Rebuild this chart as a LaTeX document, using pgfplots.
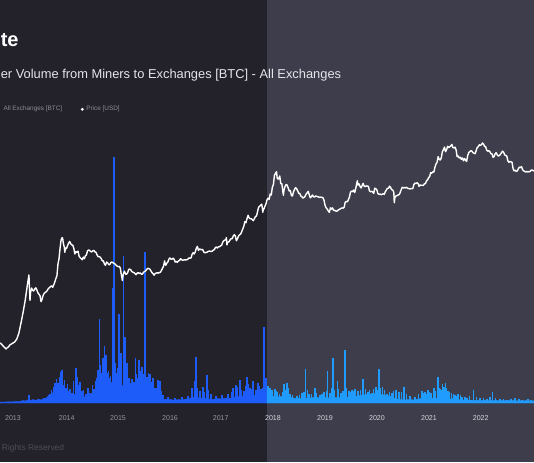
\documentclass[border=0pt]{standalone}
\usepackage{fontspec}
\setmainfont{Liberation Sans}
\usepackage{pgfplots}
\pgfplotsset{compat=1.18}

\definecolor{bgleft}{RGB}{35,33,42}
\definecolor{bgright}{RGB}{62,61,75}
\definecolor{volleft}{RGB}{30,92,250}
\definecolor{volright}{RGB}{32,156,255}
\definecolor{subtxt}{RGB}{228,228,234}
\definecolor{legtxt}{RGB}{140,140,150}
\definecolor{tickdim}{RGB}{150,150,158}
\definecolor{tickbright}{RGB}{215,215,222}
\definecolor{foot}{RGB}{78,77,88}

\begin{document}
\begin{tikzpicture}
\useasboundingbox (0,0) rectangle (400.5pt,346.5pt);
% two shaded panels
\fill[bgleft]  (0,0) rectangle (200.25pt,346.5pt);
\fill[bgright] (200.25pt,0) rectangle (400.5pt,346.5pt);

% ---------- transfer volume (BTC) ----------
\begin{axis}[
  at={(0pt,44.25pt)}, anchor=south west, scale only axis,
  width=400.5pt, height=302.25pt,
  xmin=2012.722, xmax=2022.836, ymin=0, ymax=40300,
  axis line style={draw=none}, ytick=\empty,
  xtick={2012.968,2013.985,2014.957,2015.942,2016.902,2017.892,2018.877,2019.862,2020.847,2021.826},
  xticklabels={\textcolor{tickdim}{2013},\textcolor{tickdim}{2014},\textcolor{tickdim}{2015},\textcolor{tickdim}{2016},\textcolor{tickdim}{2017},
               \textcolor{tickbright}{2018},\textcolor{tickbright}{2019},\textcolor{tickbright}{2020},\textcolor{tickbright}{2021},\textcolor{tickbright}{2022}},
  xtick style={draw=none},
  xticklabel style={font=\fontsize{5.3}{6}\selectfont, anchor=center, yshift=-11.5pt},
  clip=false,
]
% baseline flow, dark panel
\addplot[fill=volleft, draw=volleft, line width=0.3pt] coordinates {
(2012.722,100) (2012.80,100) (2012.90,120) (2013.00,130) (2013.10,150) (2013.15,250)
(2013.20,200) (2013.25,300) (2013.30,250) (2013.35,350) (2013.40,250) (2013.45,400)
(2013.50,300) (2013.55,450) (2013.60,500) (2013.65,800) (2013.70,900) (2013.75,1200)
(2013.80,1100) (2013.85,1400) (2013.90,1200) (2013.95,1000) (2014.00,800) (2014.05,650)
(2014.10,700) (2014.15,900) (2014.20,750) (2014.25,600) (2014.30,650) (2014.35,550)
(2014.40,700) (2014.45,900) (2014.50,1200) (2014.55,1400) (2014.60,1700) (2014.65,1500)
(2014.70,1800) (2014.75,1400) (2014.80,1900) (2014.85,2100) (2014.90,1800) (2014.95,1600)
(2015.00,1900) (2015.05,1700) (2015.10,1500) (2015.15,1200) (2015.20,1100) (2015.25,1300)
(2015.30,1200) (2015.35,1000) (2015.40,1100) (2015.45,1200) (2015.50,900) (2015.55,800)
(2015.60,700) (2015.65,600) (2015.70,500) (2015.75,450) (2015.80,400) (2015.85,350)
(2015.90,400) (2015.95,350) (2016.00,300) (2016.05,300) (2016.10,350) (2016.15,300)
(2016.20,350) (2016.25,400) (2016.30,450) (2016.35,500) (2016.40,600) (2016.45,550)
(2016.50,500) (2016.55,450) (2016.60,500) (2016.65,400) (2016.70,400) (2016.75,350)
(2016.80,400) (2016.85,450) (2016.90,400) (2016.95,450) (2017.00,500) (2017.05,450)
(2017.10,500) (2017.15,550) (2017.20,600) (2017.25,650) (2017.30,700) (2017.35,650)
(2017.40,700) (2017.45,750) (2017.50,700) (2017.55,800) (2017.60,750) (2017.65,850)
(2017.70,800) (2017.75,900) (2017.779,850)
} \closedcycle;
% spikes, dark panel
\addplot[ycomb, volleft, line width=0.95pt] coordinates {
(2013.271,800) (2013.555,500) (2013.669,900) (2013.764,2000) (2013.820,2000) (2013.877,3100)
(2013.896,3300) (2013.934,1800) (2013.972,1500) (2014.029,1200) (2014.086,1000) (2014.161,3500)
(2014.199,1800) (2014.237,2100) (2014.275,1200) (2014.351,900) (2014.427,1000) (2014.502,1400)
(2014.559,2500) (2014.603,8400) (2014.635,3000) (2014.673,4500) (2014.701,5700) (2014.730,4800)
(2014.767,3000) (2014.805,2500) (2014.853,11500) (2014.881,24600) (2014.909,4000) (2014.938,3000)
(2014.976,8900) (2015.014,5000) (2015.057,14700) (2015.089,6600) (2015.127,4000) (2015.165,2500)
(2015.203,2000) (2015.241,1800) (2015.288,4500) (2015.317,2200) (2015.355,4300) (2015.411,3600)
(2015.440,2000) (2015.468,15100) (2015.506,2600) (2015.534,3000) (2015.563,2900) (2015.620,2500)
(2015.677,1500) (2015.714,2300) (2015.752,2200) (2015.809,800) (2015.904,600) (2016.036,500)
(2016.169,600) (2016.283,700) (2016.358,1500) (2016.434,4600) (2016.510,1200) (2016.567,1600)
(2016.642,2800) (2016.718,900) (2016.813,700) (2016.927,800) (2017.040,900) (2017.135,1500)
(2017.192,1800) (2017.267,2300) (2017.343,1200) (2017.400,2600) (2017.457,1500) (2017.514,2200)
(2017.571,1300) (2017.609,2000) (2017.665,1400) (2017.722,7600) (2017.760,2500)
(2013.70,1300) (2013.74,1600) (2013.79,2400) (2013.85,2600) (2013.91,2200) (2013.95,2300)
(2014.00,1900) (2014.05,1400) (2014.12,2200) (2014.18,2600) (2014.22,1600) (2014.30,1300)
(2014.39,1500) (2014.47,1800) (2014.53,2200) (2014.58,3300) (2014.62,3800) (2014.65,2600)
(2014.68,3500) (2014.72,3900) (2014.75,2800) (2014.78,3200) (2014.82,2700) (2014.86,3400)
(2014.895,3800) (2014.92,2600) (2014.955,3500) (2014.99,3000) (2015.03,3800) (2015.07,4200)
(2015.11,2800) (2015.145,2300) (2015.185,1900) (2015.22,2400) (2015.26,2100) (2015.30,2900)
(2015.335,2500) (2015.37,2800) (2015.39,3200) (2015.43,2300) (2015.45,2900) (2015.49,2100)
(2015.52,2400) (2015.55,2000) (2015.59,2100) (2015.65,1500) (2015.69,1400) (2015.73,1700)
(2015.77,1200) (2016.40,2200) (2016.46,1500) (2016.60,1100) (2016.66,1300) (2017.10,1100)
(2017.22,1600) (2017.30,1300) (2017.37,1700) (2017.43,1900) (2017.49,1400) (2017.53,1600)
(2017.59,1100) (2017.63,1700) (2017.69,1500) (2017.74,1900)
};
% baseline flow, light panel
\addplot[fill=volright, draw=volright, line width=0.3pt] coordinates {
(2017.779,850) (2017.85,750) (2017.90,650) (2017.95,700) (2018.00,600) (2018.05,650)
(2018.10,550) (2018.15,600) (2018.20,500) (2018.25,550) (2018.30,450) (2018.35,500)
(2018.40,450) (2018.45,500) (2018.50,450) (2018.55,500) (2018.60,500) (2018.65,550)
(2018.70,500) (2018.75,550) (2018.80,550) (2018.85,500) (2018.90,550) (2018.95,500)
(2019.00,550) (2019.05,500) (2019.10,550) (2019.15,550) (2019.20,600) (2019.25,550)
(2019.30,600) (2019.35,550) (2019.40,600) (2019.45,650) (2019.50,700) (2019.55,750)
(2019.60,800) (2019.65,850) (2019.70,900) (2019.75,900) (2019.80,950) (2019.85,900)
(2019.90,900) (2019.95,850) (2020.00,800) (2020.05,750) (2020.10,700) (2020.15,600)
(2020.20,450) (2020.25,400) (2020.30,350) (2020.35,350) (2020.40,300) (2020.45,350)
(2020.50,350) (2020.55,300) (2020.60,350) (2020.65,400) (2020.70,450) (2020.75,500)
(2020.80,450) (2020.85,500) (2020.90,450) (2020.95,500) (2021.00,450) (2021.05,500)
(2021.10,450) (2021.15,500) (2021.20,450) (2021.25,400) (2021.30,450) (2021.35,400)
(2021.40,350) (2021.45,350) (2021.50,300) (2021.55,300) (2021.60,280) (2021.65,280)
(2021.70,260) (2021.75,280) (2021.80,260) (2021.85,250) (2021.90,260) (2021.95,250)
(2022.00,250) (2022.10,240) (2022.20,250) (2022.30,230) (2022.40,240) (2022.50,220)
(2022.60,230) (2022.70,220) (2022.836,220)
} \closedcycle;
% spikes, light panel
\addplot[ycomb, volright, line width=0.95pt] coordinates {
(2017.798,1700) (2017.836,1500) (2017.874,1300) (2017.930,1400) (2017.968,1100) (2018.101,1900)
(2018.158,2000) (2018.215,900) (2018.347,700) (2018.442,1000) (2018.512,3400) (2018.574,900)
(2018.688,1500) (2018.783,800) (2018.859,1100) (2018.929,3200) (2018.972,1000) (2019.029,4500)
(2019.118,2200) (2019.180,1000) (2019.256,5300) (2019.332,1200) (2019.389,1300) (2019.446,1400)
(2019.503,1200) (2019.597,2400) (2019.692,1100) (2019.768,1000) (2019.844,1600) (2019.900,3400)
(2019.970,1600) (2020.052,900) (2020.147,1000) (2020.222,1300) (2020.279,1100) (2020.374,1600)
(2020.487,700) (2020.582,600) (2020.715,1200) (2020.771,1100) (2020.828,1300) (2020.885,1000)
(2020.942,1500) (2021.018,2600) (2021.055,1400) (2021.106,1900) (2021.163,2000) (2021.207,1200)
(2021.277,1000) (2021.340,800) (2021.396,900) (2021.472,600) (2021.567,500) (2021.694,1300)
(2021.813,500) (2021.945,400) (2022.046,1100) (2022.192,400) (2022.324,350) (2022.476,500)
(2022.608,350) (2022.722,400)
(2017.81,1200) (2017.89,1000) (2017.95,1200) (2018.02,900) (2018.07,1100) (2018.13,1300)
(2018.19,1500) (2018.26,800) (2018.40,800) (2018.48,1100) (2018.54,1300) (2018.62,900)
(2018.72,1000) (2018.82,900) (2018.90,1200) (2019.00,1500) (2019.06,1300) (2019.14,1400)
(2019.22,1200) (2019.29,1500) (2019.36,1100) (2019.42,1200) (2019.55,1300) (2019.64,1400)
(2019.72,1300) (2019.80,1400) (2019.87,1300) (2019.93,1500) (2020.00,1300) (2020.10,1100)
(2020.18,1200) (2020.32,1100) (2020.42,900) (2020.65,900) (2020.74,1000) (2020.80,900)
(2020.86,1100) (2020.97,1200) (2021.04,1500) (2021.08,1300) (2021.13,1600) (2021.18,1500)
(2021.24,1100) (2021.31,900) (2021.36,700) (2021.44,800) (2021.53,600) (2021.62,700)
(2021.75,600) (2021.88,500) (2022.00,600) (2022.10,500) (2022.26,450) (2022.40,400)
(2022.55,400) (2022.68,350) (2022.78,300)
};
\end{axis}

% ---------- price (USD, log scale) ----------
\begin{axis}[
  at={(0pt,44.25pt)}, anchor=south west, scale only axis,
  width=400.5pt, height=302.25pt,
  xmin=2012.722, xmax=2022.836, ymode=log, ymin=0.8326, ymax=3.344e7,
  hide axis,
]
\addplot[white, line width=1.05pt, line join=round] coordinates {
(2012.722,11.3) (2012.75,10.8) (2012.78,9.9) (2012.81,9.3) (2012.835,8.7) (2012.86,9.2)
(2012.88,9.5) (2012.91,10.4) (2012.95,11.0) (2013.00,11.8) (2013.04,13.4) (2013.08,17.4)
(2013.12,27) (2013.16,43) (2013.20,73) (2013.24,140) (2013.27,217) (2013.28,120) (2013.29,72)
(2013.30,100) (2013.32,123) (2013.34,112) (2013.36,108) (2013.38,118) (2013.40,124)
(2013.42,113) (2013.44,100) (2013.46,94) (2013.48,88) (2013.50,68) (2013.52,76)
(2013.54,90) (2013.56,98) (2013.58,102) (2013.60,105) (2013.62,112) (2013.64,121)
(2013.66,125) (2013.68,132) (2013.70,135) (2013.72,127) (2013.74,141) (2013.76,160)
(2013.78,185) (2013.80,210) (2013.82,350) (2013.84,440) (2013.86,700) (2013.88,1000)
(2013.90,1100) (2013.91,1050) (2013.92,880) (2013.94,720) (2013.95,580) (2013.96,700)
(2013.98,680) (2014.00,770) (2014.02,860) (2014.04,930) (2014.06,850) (2014.08,800)
(2014.10,790) (2014.12,690) (2014.14,540) (2014.16,600) (2014.18,580) (2014.20,610)
(2014.22,490) (2014.24,460) (2014.26,440) (2014.28,420) (2014.30,470) (2014.32,440)
(2014.34,500) (2014.36,520) (2014.38,620) (2014.40,640) (2014.42,630) (2014.44,600)
(2014.46,590) (2014.48,620) (2014.50,630) (2014.52,590) (2014.54,580) (2014.56,520)
(2014.58,480) (2014.60,480) (2014.62,470) (2014.64,440) (2014.66,400) (2014.68,400)
(2014.70,350) (2014.72,330) (2014.74,380) (2014.76,370) (2014.78,340) (2014.80,340)
(2014.82,370) (2014.84,380) (2014.86,370) (2014.88,360) (2014.90,350) (2014.92,330)
(2014.94,320) (2014.96,310) (2014.98,315) (2015.00,295) (2015.02,220) (2015.04,170)
(2015.05,210) (2015.06,230) (2015.08,255) (2015.10,225) (2015.12,225) (2015.14,240)
(2015.16,275) (2015.18,280) (2015.20,270) (2015.22,250) (2015.24,245) (2015.26,240)
(2015.28,230) (2015.30,220) (2015.32,235) (2015.34,240) (2015.36,230) (2015.38,237)
(2015.40,225) (2015.42,225) (2015.44,245) (2015.46,250) (2015.48,260) (2015.50,275)
(2015.52,290) (2015.54,285) (2015.56,280) (2015.58,260) (2015.60,240) (2015.62,230)
(2015.64,215) (2015.66,230) (2015.68,235) (2015.70,240) (2015.72,235) (2015.74,240)
(2015.76,245) (2015.78,265) (2015.80,290) (2015.82,320) (2015.84,400) (2015.85,350)
(2015.86,330) (2015.88,360) (2015.90,380) (2015.92,430) (2015.94,455) (2015.96,430)
(2015.98,430) (2016.00,450) (2016.02,430) (2016.04,380) (2016.06,390) (2016.08,375)
(2016.10,400) (2016.12,405) (2016.14,440) (2016.16,420) (2016.18,412) (2016.20,415)
(2016.22,420) (2016.24,415) (2016.26,420) (2016.28,430) (2016.30,455) (2016.32,450)
(2016.34,455) (2016.36,530) (2016.38,570) (2016.40,540) (2016.42,590) (2016.44,690)
(2016.46,750) (2016.48,630) (2016.50,670) (2016.52,660) (2016.54,650) (2016.56,660)
(2016.58,590) (2016.60,570) (2016.62,575) (2016.64,580) (2016.66,600) (2016.68,610)
(2016.70,610) (2016.72,600) (2016.74,610) (2016.76,640) (2016.78,650) (2016.80,710)
(2016.82,730) (2016.84,700) (2016.86,740) (2016.88,740) (2016.90,770) (2016.92,790)
(2016.94,900) (2016.96,960) (2016.98,990) (2017.00,1000) (2017.01,1100) (2017.02,800)
(2017.03,880) (2017.04,900) (2017.06,920) (2017.08,1000) (2017.10,1050) (2017.12,1050)
(2017.14,1180) (2017.16,1250) (2017.18,1180) (2017.20,960) (2017.22,1050) (2017.24,1180)
(2017.26,1240) (2017.28,1280) (2017.30,1420) (2017.32,1600) (2017.34,1800) (2017.36,2200)
(2017.38,2100) (2017.40,2500) (2017.42,2900) (2017.44,2600) (2017.46,2500) (2017.48,2500)
(2017.50,2400) (2017.52,2300) (2017.54,2500) (2017.56,2750) (2017.58,2800) (2017.60,3400)
(2017.62,4100) (2017.64,4300) (2017.66,4500) (2017.68,4700) (2017.70,3300) (2017.71,3900)
(2017.72,3800) (2017.74,4300) (2017.76,4800) (2017.78,5700) (2017.80,6100) (2017.82,5800)
(2017.84,7300) (2017.86,7000) (2017.88,9800) (2017.90,11000) (2017.92,16500) (2017.94,18000)
(2017.96,19200) (2017.97,15000) (2017.98,14000) (2018.00,14000) (2018.02,16000) (2018.04,11500)
(2018.06,11400) (2018.08,8000) (2018.09,6900) (2018.10,8700) (2018.12,10100) (2018.14,11000)
(2018.16,10800) (2018.18,9500) (2018.20,8300) (2018.22,8500) (2018.24,6900) (2018.26,6700)
(2018.28,8000) (2018.30,8900) (2018.32,9600) (2018.34,9200) (2018.36,8400) (2018.38,7500)
(2018.40,7500) (2018.42,6700) (2018.44,6500) (2018.46,6100) (2018.48,6300) (2018.50,6600)
(2018.52,7300) (2018.54,7700) (2018.56,8200) (2018.58,7000) (2018.60,6200) (2018.62,6500)
(2018.64,7000) (2018.66,6500) (2018.68,6400) (2018.70,6700) (2018.72,6600) (2018.74,6500)
(2018.76,6400) (2018.78,6300) (2018.80,6400) (2018.82,6300) (2018.84,6200) (2018.86,5500)
(2018.88,4400) (2018.90,4000) (2018.92,3800) (2018.94,3500) (2018.96,3300) (2018.98,4000)
(2019.00,3800) (2019.02,4000) (2019.04,3600) (2019.06,3600) (2019.08,3500) (2019.10,3450)
(2019.12,3600) (2019.14,3700) (2019.16,3800) (2019.18,3900) (2019.20,4000) (2019.22,3950)
(2019.24,4100) (2019.26,5100) (2019.28,5300) (2019.30,5200) (2019.32,5700) (2019.34,6400)
(2019.36,7900) (2019.38,8300) (2019.40,8100) (2019.42,8700) (2019.44,7800) (2019.46,9300)
(2019.48,11800) (2019.49,13000) (2019.50,10800) (2019.52,11400) (2019.54,10200) (2019.56,9500)
(2019.58,10500) (2019.60,11600) (2019.62,10200) (2019.64,10100) (2019.66,10400) (2019.68,10300)
(2019.70,10200) (2019.72,8300) (2019.74,8100) (2019.76,8200) (2019.78,8000) (2019.80,7500)
(2019.82,9400) (2019.84,9200) (2019.86,8700) (2019.88,7400) (2019.90,7200) (2019.92,7300)
(2019.94,7100) (2019.96,7200) (2019.98,7400) (2020.00,7200) (2020.02,8100) (2020.04,8700)
(2020.06,9400) (2020.08,9300) (2020.10,10300) (2020.12,9700) (2020.14,8800) (2020.16,8700)
(2020.18,7900) (2020.19,5000) (2020.20,6200) (2020.22,6700) (2020.24,6800) (2020.26,7000)
(2020.28,7100) (2020.30,7700) (2020.32,8800) (2020.34,9800) (2020.36,9500) (2020.38,9700)
(2020.40,9500) (2020.42,9800) (2020.44,9400) (2020.46,9300) (2020.48,9100) (2020.50,9200)
(2020.52,9300) (2020.54,9200) (2020.56,11000) (2020.58,11700) (2020.60,11600) (2020.62,11900)
(2020.64,11500) (2020.66,10200) (2020.68,10800) (2020.70,10700) (2020.72,10700) (2020.74,10600)
(2020.76,11400) (2020.78,11500) (2020.80,12900) (2020.82,13500) (2020.84,14800) (2020.86,15700)
(2020.88,18500) (2020.90,18000) (2020.92,19200) (2020.94,19000) (2020.96,23500) (2020.98,27000)
(2021.00,29000) (2021.02,37000) (2021.04,33000) (2021.06,32000) (2021.08,35000) (2021.10,46000)
(2021.12,50000) (2021.14,56000) (2021.16,46000) (2021.18,50000) (2021.20,58000) (2021.22,55000)
(2021.24,57000) (2021.26,59000) (2021.28,63000) (2021.30,55000) (2021.32,54000) (2021.34,56000)
(2021.36,50000) (2021.38,37000) (2021.40,38000) (2021.42,35000) (2021.44,36000) (2021.46,33000)
(2021.48,35000) (2021.50,31000) (2021.52,34000) (2021.54,32000) (2021.56,30000) (2021.58,39000)
(2021.60,44000) (2021.62,46000) (2021.64,48000) (2021.66,47000) (2021.68,44000) (2021.70,43000)
(2021.72,42000) (2021.74,48000) (2021.76,55000) (2021.78,57000) (2021.80,62000) (2021.82,61000)
(2021.84,62000) (2021.86,67000) (2021.88,64000) (2021.90,58000) (2021.92,57000) (2021.94,49000)
(2021.96,47000) (2021.98,48000) (2022.00,46000) (2022.02,42000) (2022.04,42000) (2022.06,36000)
(2022.08,37000) (2022.10,42000) (2022.12,44000) (2022.14,40000) (2022.16,38000) (2022.18,39000)
(2022.20,41000) (2022.22,44000) (2022.24,47000) (2022.26,45000) (2022.28,40000) (2022.30,39000)
(2022.32,38000) (2022.34,31000) (2022.36,29000) (2022.38,30000) (2022.40,29500) (2022.42,29000)
(2022.44,22000) (2022.46,20000) (2022.48,20500) (2022.50,19500) (2022.52,20000) (2022.54,22000)
(2022.56,23500) (2022.58,23000) (2022.60,24000) (2022.62,21000) (2022.64,20000) (2022.66,19500)
(2022.68,19000) (2022.70,19500) (2022.72,19000) (2022.74,19400) (2022.76,19300) (2022.78,20500)
(2022.80,20800) (2022.82,20200) (2022.836,20000)
};
\end{axis}

% ---------- titles, legend, footer ----------
\begin{scope}[x=0.75pt, y=-0.75pt, yshift=346.5pt]
\node[anchor=base west, inner sep=0pt, text=white, font=\fontsize{15}{18}\selectfont\bfseries] at (0.5,46.7) {te};
\node[anchor=base west, inner sep=0pt, text=subtxt, font=\fontsize{9.65}{11}\selectfont] at (0.5,78.3) {er Volume from Miners to Exchanges [BTC] - All Exchanges};
\node[anchor=west, inner sep=0pt, text=legtxt, font=\fontsize{4.8}{5}\selectfont] at (3.3,109.3) {All Exchanges [BTC]};
\fill[white] (82.3,109.3) circle (1.6);
\node[anchor=west, inner sep=0pt, text=legtxt, font=\fontsize{4.8}{5}\selectfont] at (86,109.3) {Price [USD]};
\node[anchor=west, inner sep=0pt, text=foot, font=\fontsize{6.3}{7}\selectfont] at (1.7,448.3) {Rights Reserved};
\end{scope}
\end{tikzpicture}
\end{document}
